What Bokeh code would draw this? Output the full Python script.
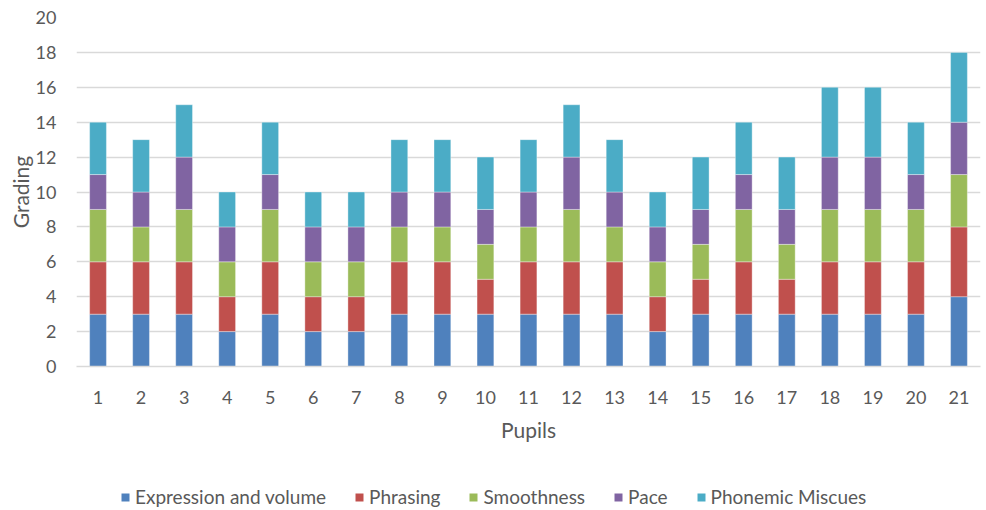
from bokeh.plotting import figure
from bokeh.layouts import column
from bokeh.models import FactorRange, Range1d, Legend, LegendItem, FixedTicker
from bokeh.embed import file_html
from bokeh.resources import INLINE

pupils = [str(i) for i in range(1, 22)]
expression = [3, 3, 3, 2, 3, 2, 2, 3, 3, 3, 3, 3, 3, 2, 3, 3, 3, 3, 3, 3, 4]
phrasing   = [3, 3, 3, 2, 3, 2, 2, 3, 3, 2, 3, 3, 3, 2, 2, 3, 2, 3, 3, 3, 4]
smoothness = [3, 2, 3, 2, 3, 2, 2, 2, 2, 2, 2, 3, 2, 2, 2, 3, 2, 3, 3, 3, 3]
pace       = [2, 2, 3, 2, 2, 2, 2, 2, 2, 2, 2, 3, 2, 2, 2, 2, 2, 3, 3, 2, 3]
phonemic   = [3, 3, 3, 2, 3, 2, 2, 3, 3, 3, 3, 3, 3, 2, 3, 3, 3, 4, 4, 3, 4]

series = ["Expression and volume", "Phrasing", "Smoothness", "Pace", "Phonemic Miscues"]
keys = ["expression", "phrasing", "smoothness", "pace", "phonemic"]
colors = ["#4F81BD", "#C0504D", "#9BBB59", "#8064A2", "#4BACC6"]

data = dict(pupils=pupils, expression=expression, phrasing=phrasing,
            smoothness=smoothness, pace=pace, phonemic=phonemic)

FONT = "Lato"
GREY = "#595959"

p = figure(x_range=FactorRange(*pupils, range_padding=0), y_range=Range1d(0, 20),
           width=986, height=455, output_backend="svg", toolbar_location=None,
           min_border_left=76, min_border_right=6, min_border_top=17, min_border_bottom=89)
p.outline_line_color = None

renderers = p.vbar_stack(keys, x="pupils", width=0.39, color=colors, source=data,
                         line_color="white", line_width=0.6, line_alpha=0.6)

p.yaxis.ticker = FixedTicker(ticks=list(range(0, 21, 2)))
p.yaxis.axis_line_color = None
p.yaxis.major_tick_line_color = None
p.yaxis.minor_tick_line_color = None
p.yaxis.major_tick_out = 0
p.yaxis.major_label_text_font = FONT
p.yaxis.major_label_text_font_size = "18px"
p.yaxis.major_label_text_color = GREY
p.yaxis.major_label_standoff = 20
p.yaxis.axis_label = "Grading"
p.yaxis.axis_label_text_font = FONT
p.yaxis.axis_label_text_font_size = "21px"
p.yaxis.axis_label_text_font_style = "normal"
p.yaxis.axis_label_text_color = GREY
p.yaxis.axis_label_standoff = 0

p.xaxis.axis_line_color = "#D9D9D9"
p.xaxis.axis_line_width = 1.5
p.xaxis.major_tick_line_color = None
p.xaxis.minor_tick_line_color = None
p.xaxis.major_label_text_font = FONT
p.xaxis.major_label_text_font_size = "18px"
p.xaxis.major_label_text_color = GREY
p.xaxis.major_label_standoff = 18
p.xaxis.axis_label = "Pupils"
p.xaxis.axis_label_text_font = FONT
p.xaxis.axis_label_text_font_size = "21px"
p.xaxis.axis_label_text_font_style = "normal"
p.xaxis.axis_label_text_color = GREY
p.xaxis.axis_label_standoff = 10

p.xgrid.grid_line_color = None
p.ygrid.grid_line_color = "#D9D9D9"
p.ygrid.grid_line_width = 1.5

# legend strip below the chart
lg = figure(width=986, height=55, output_backend="svg", toolbar_location=None,
            x_range=Range1d(0, 1), y_range=Range1d(0, 1),
            x_axis_location=None, y_axis_location=None,
            min_border=0, min_border_left=0, min_border_right=0,
            min_border_top=0, min_border_bottom=0)
lg.grid.visible = False
lg.outline_line_color = None
leg_renderers = []
for k, c in zip(keys, colors):
    # zero-height proxy marks, only used to draw the legend swatches
    leg_renderers.append(lg.vbar(x=[0.5], top=[0], bottom=[0], width=0.01,
                                 fill_color=c, line_alpha=0))

legend = Legend(items=[LegendItem(label=s, renderers=[r]) for s, r in zip(series, leg_renderers)],
                orientation="horizontal", location=(44, 2))
legend.border_line_color = None
legend.background_fill_alpha = 0
legend.label_text_font = FONT
legend.label_text_font_size = "19px"
legend.label_text_color = GREY
legend.glyph_width = 10
legend.glyph_height = 10
legend.label_standoff = 5
legend.spacing = 28
legend.margin = 0
legend.padding = 0
lg.add_layout(legend, "center")

layout = column(p, lg, spacing=0)
open("out.html", "w").write(file_html(layout, INLINE))
